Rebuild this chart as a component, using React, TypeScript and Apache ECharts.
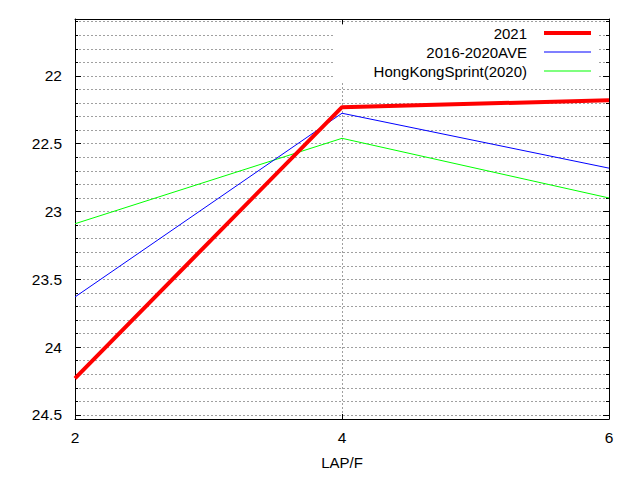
import React, { useEffect, useRef } from "react";
import * as echarts from "echarts";

const laps = [2, 4, 6];
const series2021 = [24.23, 22.23, 22.18];
const seriesAve = [23.63, 22.275, 22.68];
const seriesHK = [23.09, 22.46, 22.9];
const seriesNames = ["2021", "2016-2020AVE", "HongKongSprint(2020)"];
const seriesColors = ["#ff0000", "#0000ff", "#00ff00"];
const seriesWidths = [4, 1, 1];
const xTicks = [2, 4, 6];
const yMajorTicks = [22, 22.5, 23, 23.5, 24, 24.5];
const yMinorTicks = [
  21.6, 21.7, 21.8, 21.9, 22, 22.1, 22.2, 22.3, 22.4, 22.5, 22.6, 22.7, 22.8, 22.9, 23,
  23.1, 23.2, 23.3, 23.4, 23.5, 23.6, 23.7, 23.8, 23.9, 24, 24.1, 24.2, 24.3, 24.4, 24.5,
];
const yMin = 21.58;
const yMax = 24.53;

const FONT = "Liberation Sans";

export default function App() {
  const ref = useRef<HTMLDivElement>(null);
  useEffect(() => {
    if (!ref.current) return;
    const chart = echarts.init(ref.current, undefined, { renderer: "svg" });
    const values = [series2021, seriesAve, seriesHK];
    const dash = { color: "#a0a0a0", width: 1, type: [2, 2] as any };
    const yBase = (position: "left" | "right", custom: number[], len: number, showLine: boolean, showLabel: boolean, split: boolean) => ({
      type: "value",
      position,
      inverse: true,
      min: yMin,
      max: yMax,
      axisLine: { show: showLine, onZero: false, lineStyle: { color: "#000", width: 1 } },
      axisTick: { show: true, inside: true, length: len, customValues: custom, lineStyle: { color: "#000", width: 1 } },
      axisLabel: showLabel
        ? { show: true, customValues: custom, color: "#000", fontSize: 15.5, fontFamily: FONT, margin: 13 }
        : { show: false },
      splitLine: { show: split, lineStyle: dash },
    });
    chart.setOption({
      animation: false,
      backgroundColor: "#fff",
      textStyle: { fontFamily: FONT },
      grid: { left: 75, top: 19, right: 31, bottom: 61, containLabel: false },
      xAxis: [
        {
          type: "value",
          position: "bottom",
          min: 2,
          max: 6,
          interval: 2,
          name: "LAP/F",
          nameLocation: "middle",
          nameGap: 36,
          nameTextStyle: { color: "#000", fontSize: 15, fontFamily: FONT },
          axisLine: { show: true, onZero: false, lineStyle: { color: "#000", width: 1 } },
          axisTick: { show: true, inside: true, length: 5, customValues: xTicks, lineStyle: { color: "#000" } },
          axisLabel: { color: "#000", fontSize: 15.5, fontFamily: FONT, margin: 10, customValues: xTicks },
          splitLine: { show: true, lineStyle: dash },
        },
        {
          type: "value",
          position: "top",
          min: 2,
          max: 6,
          interval: 2,
          axisLine: { show: true, onZero: false, lineStyle: { color: "#000", width: 1 } },
          axisTick: { show: true, inside: true, length: 5, lineStyle: { color: "#000" } },
          axisLabel: { show: false },
          splitLine: { show: false },
        },
      ],
      yAxis: [
        yBase("left", yMajorTicks, 6, true, true, false),
        yBase("left", yMinorTicks, 3, false, false, true),
        yBase("right", yMajorTicks, 6, true, false, false),
        yBase("right", yMinorTicks, 3, false, false, false),
      ],
      legend: seriesNames.map((name, i) => ({
        data: [name],
        orient: "vertical",
        align: "right",
        right: 49,
        top: 25.5 + i * 19,
        padding: 0,
        icon: "rect",
        itemWidth: 47,
        itemHeight: seriesWidths[i] === 4 ? 4 : 1,
        itemStyle: { color: seriesColors[i], borderWidth: 0 },
        textStyle: { color: "#000", fontSize: 15, fontFamily: FONT, padding: [0, 12, 0, 0] },
        selectedMode: false,
      })),
      graphic: [
        {
          type: "rect",
          z: 1,
          shape: { x: 333, y: 27, width: 265, height: 56 },
          style: { fill: "#fff" },
          silent: true,
        },
      ],
      series: seriesNames.map((name, i) => ({
        name,
        type: "line",
        xAxisIndex: 0,
        yAxisIndex: 0,
        data: laps.map((x, j) => [x, values[i][j]]),
        symbol: "none",
        showSymbol: false,
        color: seriesColors[i],
        lineStyle: { color: seriesColors[i], width: seriesWidths[i] },
        z: 3 + (2 - i),
      })),
    });
    return () => chart.dispose();
  }, []);
  return <div ref={ref} style={{ position: "fixed", left: 0, top: 0, width: 640, height: 480 }} />;
}
